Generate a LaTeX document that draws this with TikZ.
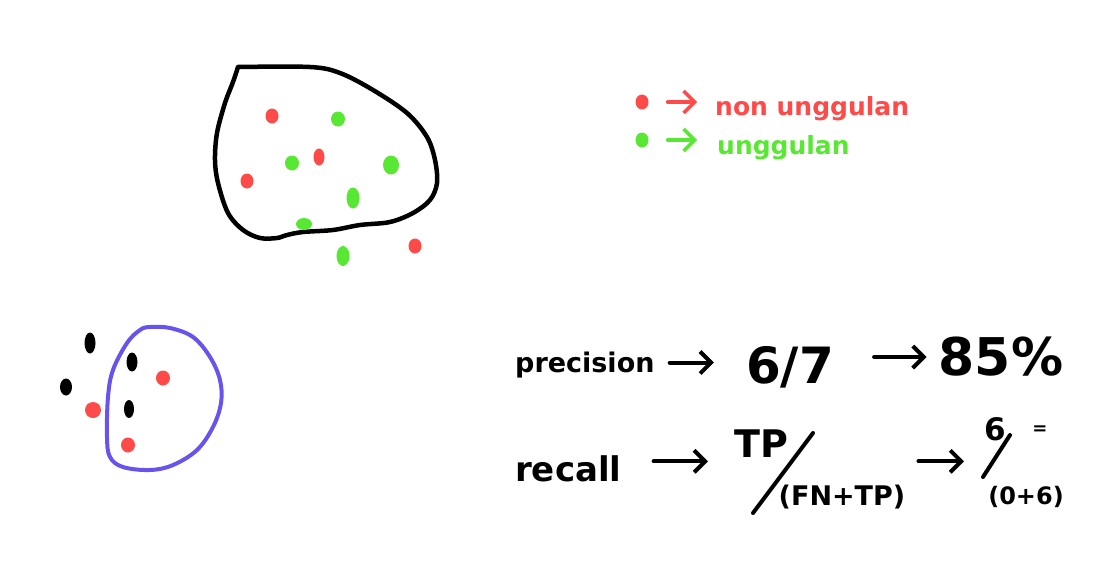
\documentclass[tikz,border=0pt]{standalone}
\usepackage{fontspec}
\setmainfont{DejaVu Sans}
\usetikzlibrary{positioning, arrows.meta, shapes.geometric}
\definecolor{dotred}{RGB}{255,74,74}
\definecolor{dotgreen}{RGB}{88,232,52}
\definecolor{loopblue}{RGB}{104,84,236}
\tikzstyle{rdot}=[ellipse, fill=dotred, minimum width=13pt, minimum height=15pt, inner sep=0pt]
\tikzstyle{gdot}=[ellipse, fill=dotgreen, minimum width=14pt, minimum height=17pt, inner sep=0pt]
\tikzstyle{kdot}=[ellipse, fill=black, minimum width=11pt, minimum height=19pt, inner sep=0pt]
\tikzstyle{hand}=[inner sep=2pt]
\tikzstyle{arr}=[line width=4pt, line cap=round, line join=round,
                          % open hand-drawn head
                          -{Straight Barb[length=11pt,width=22pt]}]

\begin{document}
\begin{tikzpicture}[x=1pt, y=-1pt]
  \useasboundingbox (0,0) rectangle (1095,560);

  % Outline of the first set
  \draw[line width=4.5pt, line join=round, line cap=round] plot[smooth, tension=0.55] coordinates {
    (238,67) (310,67) (340,73) (373,90) (407,113) (427,137) (435,160) (437,183)
    (430,200) (413,213) (390,222) (360,225) (333,230) (303,232) (287,235) (277,238)
    (260,238) (243,230) (228,213) (218,183) (215,160) (217,133) (225,103) (233,82) (238,67)};

  % Red and green points
  \node[rdot] (nu1) at (272,116) {};
  \node[rdot, minimum width=11pt, minimum height=17pt] (nu2) at (319,157) {};
  \node[rdot] (nu3) at (247,181) {};
  \node[rdot] (nu4) at (415,246) {};
  \node[gdot, minimum height=15pt] (u1) at (338,119) {};
  \node[gdot, minimum height=15pt] (u2) at (292,163) {};
  \node[gdot, minimum width=16pt, minimum height=19pt] (u3) at (391,165) {};
  \node[gdot, minimum width=13pt, minimum height=21pt] (u4) at (353,198) {};
  \node[gdot, minimum width=16pt, minimum height=12pt] (u5) at (304,224) {};
  \node[gdot, minimum width=13pt, minimum height=20pt] (u6) at (343,256) {};

  % Legend
  \node[rdot] (keyr) at (642,102) {};
  \node[gdot, minimum width=13pt, minimum height=15pt] (keyg) at (642,140) {};
  \node[hand, anchor=base west, text=dotred, font=\bfseries\fontsize{25}{30}\selectfont] (keyrtxt) at (713,115) {non unggulan};
  \node[hand, anchor=base west, text=dotgreen, font=\bfseries\fontsize{25}{30}\selectfont] (keygtxt) at (715,154) {unggulan};
  \draw[arr, dotred, line width=3.5pt, shorten <=19pt, shorten >=16pt] (keyr.east) -- (keyr.east -| keyrtxt.west);
  \draw[arr, dotgreen, line width=3.5pt, shorten <=19pt, shorten >=18pt] (keyg.east) -- (keyg.east -| keygtxt.west);

  % Second set, with the blue loop
  \draw[loopblue, line width=4pt] plot[smooth cycle, tension=0.6] coordinates {
    (150,327) (170,328) (193,337) (210,357) (220,380) (221,403) (213,427) (197,450)
    (173,465) (150,470) (123,467) (110,457) (107,437) (108,397) (113,370) (127,343) (140,330)};
  \node[kdot, minimum height=21pt] (k1) at (90,343) {};
  \node[kdot] (k2) at (132,362) {};
  \node[kdot, minimum width=12pt, minimum height=17pt] (k3) at (66,387) {};
  \node[kdot, minimum width=10pt, minimum height=18pt] (k4) at (129,409) {};
  \node[rdot, minimum width=14pt] (r1) at (163,378) {};
  \node[rdot, minimum width=16pt, minimum height=16pt] (r2) at (93,410) {};
  \node[rdot, minimum width=14pt] (r3) at (128,445) {};

  % Precision row
  \node[hand, anchor=base west, font=\bfseries\fontsize{27}{32}\selectfont] (prec) at (513,372) {precision};
  \node[hand, font=\bfseries\fontsize{50}{56}\selectfont] (pfrac) at (790,367) {6/7};
  \node[hand, font=\bfseries\fontsize{52}{58}\selectfont] (pval) at (1001,357) {85\%};
  \draw[arr, shorten <=13pt, shorten >=30pt] ([yshift=2pt]prec.east) -- ([yshift=2pt]prec.east -| pfrac.west);
  \draw[arr, shorten <=38pt, shorten >=10pt] (pfrac.east |- pval.west) -- (pval.west);

  % Recall row
  \node[hand, anchor=base west, font=\bfseries\fontsize{34}{40}\selectfont] (rec) at (513,481) {recall};
  \node[hand, font=\bfseries\fontsize{38}{44}\selectfont] (tp) at (761,444) {TP};
  \node[hand, font=\bfseries\fontsize{27}{32}\selectfont] (fn) at (842,497) {(FN+TP)};
  \coordinate (s1a) at (753,513);
  \coordinate (s1b) at (813,433);
  \draw[line width=4pt, line cap=round] (s1a) -- (s1b);
  \draw[arr, shorten <=30pt, shorten >=24pt] ([yshift=7pt]rec.east) -- ([yshift=7pt]rec.east -| tp.west);

  \node[hand, font=\bfseries\fontsize{31}{36}\selectfont] (six) at (995,429) {6};
  \node[hand, font=\bfseries\fontsize{18}{20}\selectfont] (eq) at (1040,430) {=};
  \node[hand, font=\bfseries\fontsize{24}{28}\selectfont] (zero) at (1026,497) {(0+6)};
  \coordinate (s2a) at (983,477);
  \coordinate (s2b) at (1010,435);
  \draw[line width=4pt, line cap=round] (s2a) -- (s2b);
  \draw[arr, shorten <=11pt, shorten >=18pt] ([yshift=7pt]fn.east |- rec.east) -- ([yshift=7pt]six.west |- rec.east);
\end{tikzpicture}
\end{document}
